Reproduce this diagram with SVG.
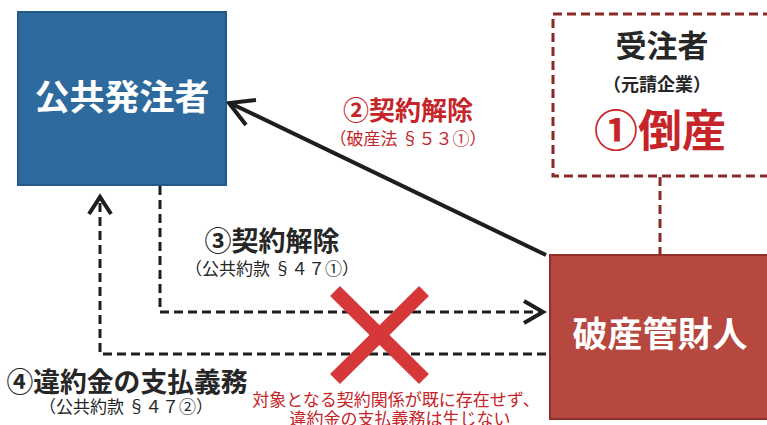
<svg xmlns="http://www.w3.org/2000/svg" width="767" height="425" viewBox="0 0 767 425">
<style>
text{font-family:"Noto Sans CJK JP","Noto Sans CJK SC",sans-serif;font-weight:bold;text-anchor:middle}
.w{fill:#ffffff}
.dk{fill:#262626}
.rd{fill:#c52429}
.sub{font-weight:normal}
.dash{fill:none;stroke:#1e1e1e;stroke-width:3;stroke-dasharray:9 5}
.head{fill:none;stroke:#1e1e1e;stroke-width:4;stroke-linecap:butt;stroke-linejoin:miter}
</style>
<rect width="767" height="425" fill="#ffffff"/>
<g id="connectors">
<line x1="660" y1="177" x2="660" y2="254" stroke="#8a2a26" stroke-width="3" stroke-dasharray="9 5"/>
<line x1="546" y1="255" x2="232" y2="104" stroke="#1e1e1e" stroke-width="4"/>
<polyline class="head" points="246,125 229,103 256,100"/>
<polyline class="dash" points="160,186 160,312 540,312"/>
<polyline class="head" points="524,301 543,312 524,323"/>
<polyline class="dash" points="546,354 100,354 100,198"/>
<polyline class="head" points="89,214 100,197 111,214"/>
</g>
<g id="cross">
<line x1="335" y1="291" x2="424" y2="379" stroke="#d6383a" stroke-width="14"/>
<line x1="424" y1="291" x2="335" y2="379" stroke="#d6383a" stroke-width="14"/>
</g>
<g id="public">
<rect x="18" y="12" width="208" height="173" fill="#2e6a9d" stroke="#245a88" stroke-width="2"/>
<text class="w" x="122" y="110" font-size="35">公共発注者</text>
</g>
<g id="contractor">
<rect x="553" y="14" width="230" height="162" fill="none" stroke="#8a2a26" stroke-width="3" stroke-dasharray="9 5"/>
<text class="dk" x="662" y="57" font-size="31">受注者</text>
<text class="dk" x="657" y="91" font-size="18">（元請企業）</text>
<text class="rd" x="660" y="147" font-size="44">①倒産</text>
</g>
<g id="trustee">
<rect x="550" y="255" width="230" height="164" fill="#b7483f" stroke="#8f3029" stroke-width="2"/>
<text class="w" x="660" y="347" font-size="35">破産管財人</text>
</g>
<g id="labels">
<text class="rd" x="408" y="120" font-size="26">②契約解除</text>
<text class="rd sub" x="408" y="145" font-size="17">（破産法 §５３①）</text>
<text class="dk" x="272" y="251" font-size="27">③契約解除</text>
<text class="dk sub" x="272" y="275" font-size="17">（公共約款 §４７①）</text>
<text class="dk" x="127" y="392" font-size="27" textLength="241" lengthAdjust="spacingAndGlyphs">④違約金の支払義務</text>
<text class="dk sub" x="126" y="413" font-size="17">（公共約款 §４７②）</text>
<text class="rd sub" x="396" y="406" font-size="17">対象となる契約関係が既に存在せず、</text>
<text class="rd sub" x="400" y="425" font-size="17">違約金の支払義務は生じない</text>
</g>
</svg>
